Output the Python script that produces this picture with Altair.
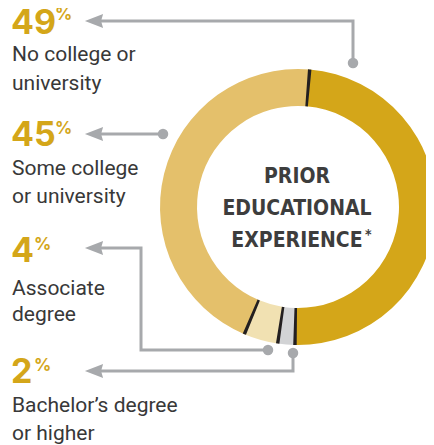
import math
import altair as alt
import pandas as pd

# ---------------- data ----------------
categories = ["No college or university", "Some college or university",
              "Associate degree", "Bachelor’s degree or higher"]
shares = [49, 45, 4, 2]
ring_order = [0, 3, 2, 1]          # clockwise position in the ring
ring_colors = ["#D4A619", "#E4C06B", "#F1E1B2", "#D2D3D5"]
pct_labels = ["49", "45", "4", "2"]
label_lines = [["No college or", "university"],
               ["Some college", "or university"],
               ["Associate", "degree"],
               ["Bachelor’s degree", "or higher"]]
center_title = ["PRIOR", "EDUCATIONAL", "EXPERIENCE"]

# ---------------- layout (reference page pixels) ----------------
W, H = 418, 437
num_x = 11
num_base = [34, 146, 262, 383]
pct_x = [55, 55, 34, 34]
line_base = [[61, 90], [175, 203], [295, 321], [412, 440]]
leader_paths = [
    [(353, 63), (353, 21), (96, 21)],
    [(163, 134), (96, 134)],
    [(268, 350), (141, 350), (141, 248), (96, 248)],
    [(293, 353), (293, 371), (96, 371)],
]
arrow_x = 94
center_x, center_y = 298, 207
title_x = 297
title_base = [183, 215, 247]
start_angle = 0.085
GRAY = "#A7A9AC"
GOLD = "#D4A619"
TXT = "#383838"
TITLE_FONT = "DejaVu Sans Condensed, Roboto, sans-serif"

xs = alt.Scale(domain=[8, 8 + W], range=[0, W], nice=False, zero=False)
ys = alt.Scale(domain=[8, 8 + H], range=[0, H], nice=False, zero=False)

def X(f):
    return alt.X(f, type="quantitative", scale=xs, axis=None)

def Y(f):
    return alt.Y(f, type="quantitative", scale=ys, axis=None)

ring_df = pd.DataFrame({"cat": categories, "share": shares, "ring": ring_order})

ring = alt.Chart(ring_df).mark_arc(
    innerRadius=101, outerRadius=138,
    x=center_x - 8, y=center_y - 8
).encode(
    theta=alt.Theta("share:Q", stack=True,
                    scale=alt.Scale(range=[start_angle, start_angle + 2 * math.pi])),
    order=alt.Order("ring:Q"),
    color=alt.Color("cat:N", scale=alt.Scale(domain=categories, range=ring_colors), legend=None),
)

sep_half = 0.0125
separators = alt.Chart(ring_df).transform_joinaggregate(
    total="sum(share)"
).transform_window(
    cum="sum(share)", sort=[alt.SortField("ring")]
).transform_calculate(
    b=f"{start_angle} + datum.cum / datum.total * 2 * PI"
).transform_calculate(
    t0=f"datum.b - {sep_half}", t1=f"datum.b + {sep_half}"
).mark_arc(
    innerRadius=101, outerRadius=138, x=center_x - 8, y=center_y - 8, color="#231F20"
).encode(
    theta=alt.Theta("t0:Q", scale=None),
    theta2="t1:Q",
)

# leader lines
rows = []
for k, path in enumerate(leader_paths):
    for i, (px, py) in enumerate(path):
        rows.append({"g": k, "i": i, "px": px, "py": py})
lines_df = pd.DataFrame(rows)
lines = alt.Chart(lines_df).mark_line(
    color=GRAY, strokeWidth=3, strokeJoin="miter", strokeCap="butt"
).encode(x=X("px"), y=Y("py"), detail="g:N", order="i:Q")

dots_df = pd.DataFrame([{"px": p[0][0], "py": p[0][1]} for p in leader_paths])
dots = alt.Chart(dots_df).mark_point(
    shape="circle", filled=True, size=110, color=GRAY, opacity=1
).encode(x=X("px"), y=Y("py"))

arrows_df = pd.DataFrame([{"px": arrow_x, "py": p[-1][1]} for p in leader_paths])
arrows = alt.Chart(arrows_df).mark_point(
    shape="M -1 0 L 1 -0.78 L 0.78 0 L 1 0.78 Z", filled=True, size=330,
    color=GRAY, opacity=1, strokeWidth=0
).encode(x=X("px"), y=Y("py"))

# numbers
num_df = pd.DataFrame({"t": pct_labels, "px": [num_x] * 4, "py": num_base})
nums = alt.Chart(num_df).mark_text(
    font="Inter", fontWeight="bold", fontSize=34, color=GOLD,
    align="left", baseline="alphabetic"
).encode(x=X("px"), y=Y("py"), text="t:N")

pct_df = pd.DataFrame({"t": ["%"] * 4, "px": pct_x, "py": [20, 134, 250, 371]})
pcts = alt.Chart(pct_df).mark_text(
    font="Inter", fontWeight="bold", fontSize=17, color=GOLD,
    align="left", baseline="alphabetic"
).encode(x=X("px"), y=Y("py"), text="t:N")

# description lines
lab_rows = []
for k, ls in enumerate(label_lines):
    for j, s in enumerate(ls):
        lab_rows.append({"t": s, "px": num_x + 1, "py": line_base[k][j]})
labs = alt.Chart(pd.DataFrame(lab_rows)).mark_text(
    font="Roboto", fontSize=21, color=TXT, align="left", baseline="alphabetic"
).encode(x=X("px"), y=Y("py"), text="t:N")

# centre title
title_df = pd.DataFrame({"t": center_title, "px": [title_x] * 3, "py": title_base})
title = alt.Chart(title_df).mark_text(
    font=TITLE_FONT, fontWeight="bold", fontSize=21, color="#3D3D3D",
    align="center", baseline="alphabetic"
).encode(x=X("px"), y=Y("py"), text="t:N")

ast_df = pd.DataFrame({"t": ["*"], "px": [365], "py": [239]})
ast = alt.Chart(ast_df).mark_text(
    font=TITLE_FONT, fontWeight="bold", fontSize=14, color="#3D3D3D",
    align="left", baseline="alphabetic"
).encode(x=X("px"), y=Y("py"), text="t:N")

chart = alt.layer(
    ring, separators, lines, dots, arrows, nums, pcts, labs, title, ast
).resolve_scale(theta="independent").properties(
    width=W, height=H, padding=0,
    autosize=alt.AutoSizeParams(type="none")
).configure_view(stroke=None)

chart.save("out.html", embed_options={"renderer": "svg", "actions": False})
